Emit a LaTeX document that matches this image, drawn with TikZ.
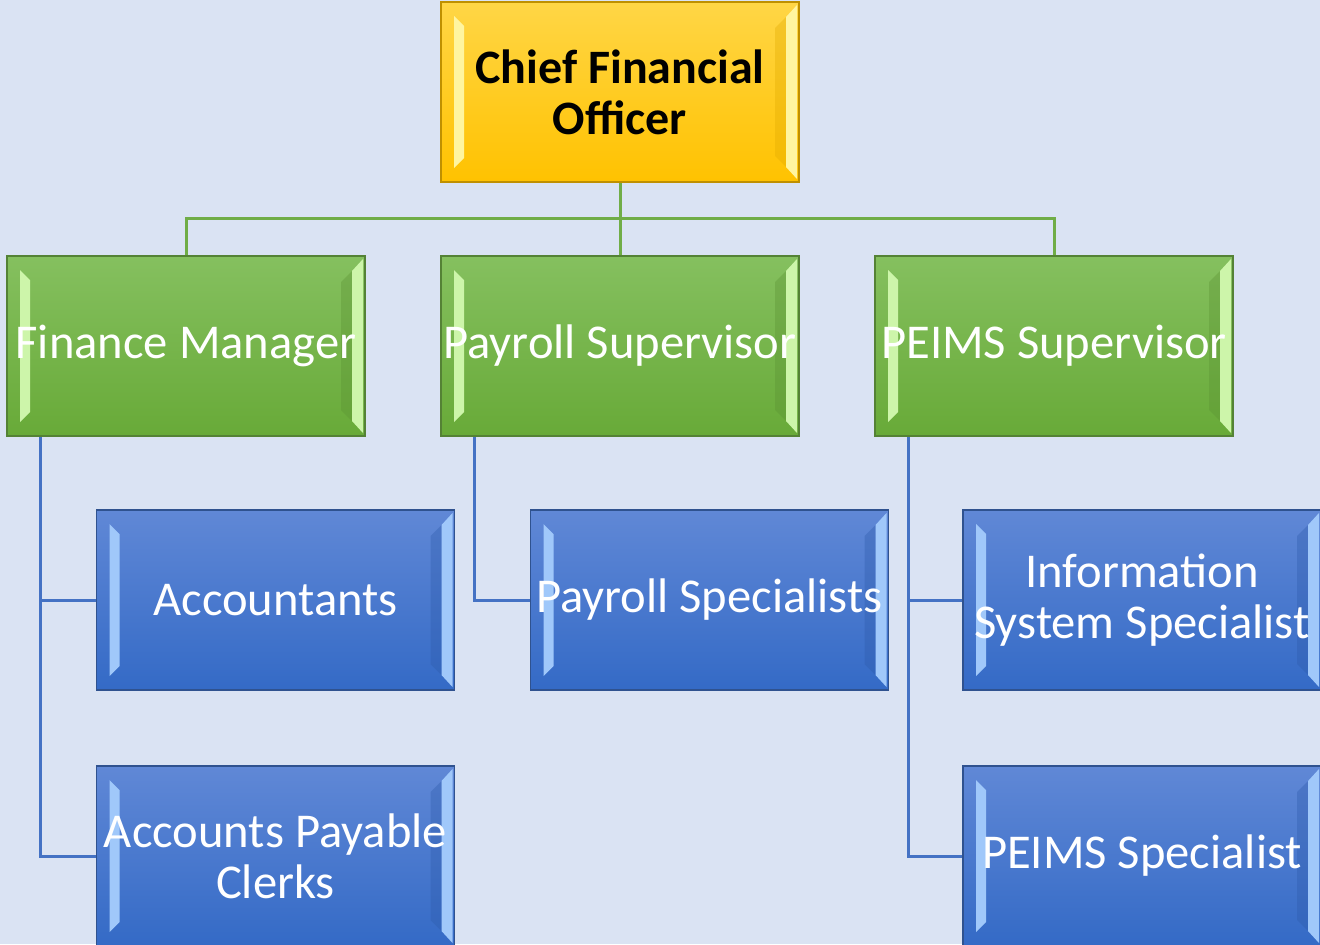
\documentclass[tikz,border=0pt]{standalone}
\usepackage{fontspec}
\setmainfont{Carlito}
\usetikzlibrary{calc}
\definecolor{bg}{RGB}{218,227,243}
\definecolor{gtop}{RGB}{133,192,95}
\definecolor{gbot}{RGB}{104,170,56}
\definecolor{gborder}{RGB}{84,130,53}
\definecolor{glight}{RGB}{205,245,170}
\definecolor{gdark}{RGB}{90,145,50}
\definecolor{btop}{RGB}{96,136,214}
\definecolor{bbot}{RGB}{52,106,198}
\definecolor{bborder}{RGB}{47,82,143}
\definecolor{blight}{RGB}{160,200,250}
\definecolor{bdark}{RGB}{45,90,170}
\definecolor{ytop}{RGB}{255,214,70}
\definecolor{ybot}{RGB}{255,194,0}
\definecolor{yborder}{RGB}{191,144,0}
\definecolor{ylight}{RGB}{255,245,160}
\definecolor{ydark}{RGB}{225,170,0}
\definecolor{gline}{RGB}{112,173,71}
\definecolor{bline}{RGB}{68,114,196}
\tikzset{
  orgbox/.style={rectangle, inner sep=0pt, minimum width=179pt, minimum height=90pt,
    draw=#1border, line width=0.9pt, top color=#1top, bottom color=#1bot,
    text=white, align=center, font=\fontsize{24.3}{25.5}\selectfont,
    path picture={
      \fill[#1light] ($(path picture bounding box.north west)+(13,14)$) -- ($(path picture bounding box.north west)+(23,24)$) -- ($(path picture bounding box.south west)+(23,-24)$) -- ($(path picture bounding box.south west)+(13,-14)$) -- cycle;
      \fill[#1dark, opacity=0.35] ($(path picture bounding box.north east)+(-13,15)$) -- ($(path picture bounding box.north east)+(-24,26)$) -- ($(path picture bounding box.south east)+(-24,-26)$) -- ($(path picture bounding box.south east)+(-13,-15)$) -- cycle;
      \fill[#1light] ($(path picture bounding box.north east)+(-2,3)$) -- ($(path picture bounding box.north east)+(-13,15)$) -- ($(path picture bounding box.south east)+(-13,-15)$) -- ($(path picture bounding box.south east)+(-2,-3)$) -- cycle;
    }},
  gconn/.style={draw=gline, line width=1.5pt},
  bconn/.style={draw=bline, line width=1.5pt},
}
\begin{document}
\begin{tikzpicture}[x=0.5pt,y=-0.5pt]
\path[use as bounding box] (0,0) rectangle (1320,944);
\fill[bg] (0,0) rectangle (1320,944);
\clip (0,0) rectangle (1320,944);

\node[orgbox=y, text=black, font=\fontsize{24}{25.5}\selectfont\bfseries] (cfo) at (620,92) {Chief Financial\\Officer};
\node[orgbox=g] (fm) at (186,346) {Finance Manager};
\node[orgbox=g] (ps) at (620,346) {Payroll Supervisor};
\node[orgbox=g] (pes) at (1054,346) {PEIMS Supervisor};

\node[orgbox=b] (acc) at (275.5,600) {Accountants};
\node[orgbox=b] (apc) at (275.5,856) {Accounts Payable\\Clerks};
\node[orgbox=b] (pays) at (709.5,600) {Payroll Specialists};
\node[orgbox=b] (iss) at (1142,600) {Information\\System Specialist};
\node[orgbox=b] (peis) at (1142,856) {PEIMS Specialist};

\coordinate (gbus) at (620,218);
\draw[gconn] (cfo.south) -- (ps.north);
\draw[gconn] (fm.north) -- (fm.north |- gbus) -- (pes.north |- gbus) -- (pes.north);

\coordinate (fmb) at ($(fm.south west)+(34,0)$);
\coordinate (psb) at ($(ps.south west)+(34,0)$);
\coordinate (peb) at ($(pes.south west)+(34,0)$);
\draw[bconn] (fmb) |- (apc.west);
\draw[bconn] (fmb) |- (acc.west);
\draw[bconn] (psb) |- (pays.west);
\draw[bconn] (peb) |- (peis.west);
\draw[bconn] (peb) |- (iss.west);
\end{tikzpicture}
\end{document}
